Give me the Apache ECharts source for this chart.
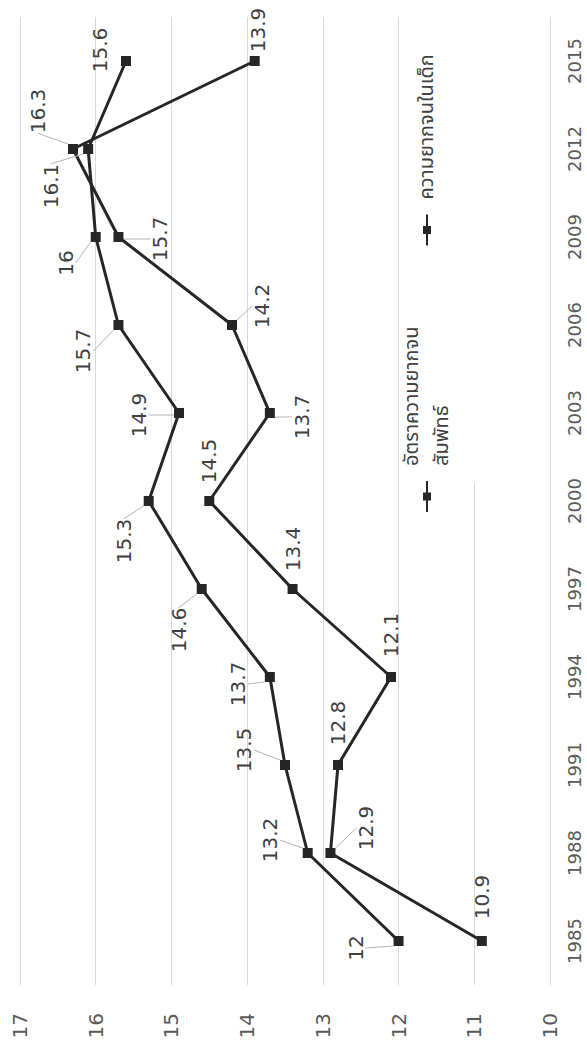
<!DOCTYPE html>
<html>
<head>
<meta charset="utf-8">
<script src="https://cdn.jsdelivr.net/npm/echarts@6/dist/echarts.min.js"></script>
<style>
html,body{margin:0;padding:0;width:587px;height:1047px;overflow:hidden;background:#fff;}
#chart{position:absolute;left:0;top:0;width:1047px;height:587px;transform-origin:0 0;transform:translate(0px,1047px) rotate(-90deg);}
</style>
</head>
<body>
<div id="chart"></div>
<script>
// ---- data ----
const years = ['1985','1988','1991','1994','1997','2000','2003','2006','2009','2012','2015'];
const relativePoverty = [12, 13.2, 13.5, 13.7, 14.6, 15.3, 14.9, 15.7, 16, 16.1, 15.6];
const childPoverty = [10.9, 12.9, 12.8, 12.1, 13.4, 14.5, 13.7, 14.2, 15.7, 16.3, 13.9];
const valueMin = 10;
const valueMax = 17;
const valueStep = 1;
const seriesNames = ['อัตราความยากจนสัมพัทธ์', 'ความยากจนในเด็ก'];
const legendLabels = ['อัตราความยากจน\nสัมพัทธ์', 'ความยากจนในเด็ก'];

// ---- label placement (layout only) ----
const relLabelOffsets = [[-7,-43],[13,-38],[15,-41],[-7,-32],[-41,-23],[-40,-25],[-2,-40],[-26,-35],[-26,-30],[-37,-37],[11,-26]];
const childLabelOffsets = [[44,0],[25,36],[42,0],[42,0],[40,0],[40,0],[-4,32],[19,30],[-2,42],[38,-35],[31,3]];
const relLeader = [1,1,1,1,1,1,1,1,1,1,0];
const childLeader = [0,1,0,0,0,0,1,1,1,1,0];

const FONT = "'DejaVu Sans', sans-serif";
const THAI = "'Noto Sans Thai', 'Noto Sans Thai Looped', 'Noto Sans', 'DejaVu Sans', sans-serif";

function mkSeries(name, values, offsets, leader) {
  return {
    name: name,
    type: 'line',
    data: values.map(function (v, i) {
      return {value: v, labelLine: {show: !!leader[i]}};
    }),
    symbol: 'rect',
    symbolSize: 10,
    lineStyle: {color: '#262626', width: 3},
    itemStyle: {color: '#262626'},
    label: {show: true, position: 'inside', fontSize: 20, color: '#404040', fontFamily: FONT},
    labelLayout: function (p) { return {dx: offsets[p.dataIndex][0], dy: offsets[p.dataIndex][1]}; },
    labelLine: {show: true, lineStyle: {color: '#b3b3b3', width: 1}},
    emphasis: {disabled: true},
    animation: false
  };
}

const chart = echarts.init(document.getElementById('chart'), null, {renderer: 'svg', width: 1047, height: 587});
chart.setOption({
  backgroundColor: '#fff',
  animation: false,
  grid: {left: 62, right: 17, top: 20, bottom: 37},
  xAxis: {
    type: 'category',
    data: years,
    boundaryGap: true,
    axisLine: {show: false},
    axisTick: {show: false},
    axisLabel: {fontSize: 18, color: '#595959', margin: 15, fontFamily: FONT}
  },
  yAxis: {
    type: 'value',
    min: valueMin, max: valueMax, interval: valueStep,
    axisLine: {show: false},
    axisTick: {show: false},
    splitLine: {lineStyle: {color: '#d9d9d9', width: 1}},
    axisLabel: {fontSize: 20, color: '#595959', margin: 28, fontFamily: FONT}
  },
  legend: {
    left: 529,
    top: 380,
    orient: 'horizontal',
    itemWidth: 31,
    itemHeight: 10,
    itemGap: 80,
    selectedMode: false,
    data: [
      {name: seriesNames[0], textStyle: {padding: [24, 0, 0, 10], lineHeight: 30}},
      {name: seriesNames[1], textStyle: {padding: [0, 0, 0, 10]}}
    ],
    formatter: function (n) { return legendLabels[seriesNames.indexOf(n)]; },
    textStyle: {fontSize: 20, color: '#404040', fontFamily: THAI}
  },
  graphic: [{
    type: 'rect', z: 1, silent: true,
    shape: {x: 564, y: 466, width: 466, height: 16},
    style: {fill: '#fff'}
  }],
  series: [
    mkSeries(seriesNames[0], relativePoverty, relLabelOffsets, relLeader),
    mkSeries(seriesNames[1], childPoverty, childLabelOffsets, childLeader)
  ]
});
</script>
</body>
</html>
